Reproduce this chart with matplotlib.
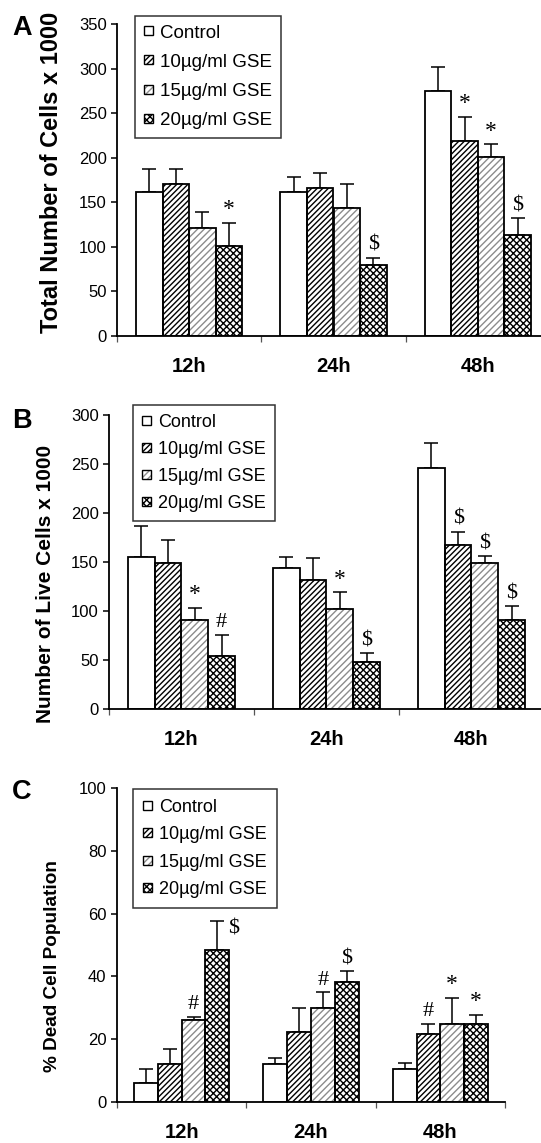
import numpy as np
import matplotlib
matplotlib.use("Agg")
import matplotlib.pyplot as plt
import matplotlib.patches as mpatches

plt.rcParams['font.family'] = ['Liberation Sans', 'DejaVu Sans']
plt.rcParams['hatch.linewidth'] = 1.0

times = ['12h', '24h', '48h']
series = ['Control', '10\u00b5g/ml GSE', '15\u00b5g/ml GSE', '20\u00b5g/ml GSE']

# panel A: total cells x 1000
total_mean = [[162, 162, 275], [170, 166, 219], [121, 144, 201], [101, 80, 113]]
total_err = [[25, 16, 27], [17, 17, 27], [18, 26, 14], [26, 8, 19]]
total_sig = [['', '', ''], ['', '', '*'], ['', '', '*'], ['*', '$', '$']]

# panel B: live cells x 1000
live_mean = [[155, 144, 246], [149, 132, 167], [91, 102, 149], [54, 48, 91]]
live_err = [[32, 11, 25], [23, 22, 14], [12, 17, 7], [22, 9, 14]]
live_sig = [['', '', ''], ['', '', '$'], ['*', '*', '$'], ['#', '$', '$']]

# panel C: % dead cells
dead_mean = [[6.2, 12.2, 10.6], [12.2, 22.2, 21.7], [26.0, 29.9, 24.8], [48.3, 38.2, 24.8]]
dead_err = [[4.4, 1.8, 1.7], [4.6, 7.7, 3.2], [1.2, 5.0, 8.4], [9.4, 3.4, 2.9]]
dead_sig = [['', '', ''], ['', '', '#'], ['#', '#', '*'], ['$', '$', '*']]

hatches = ['', '//////', '/////', 'xxxxx']
hatch_cols = ['black', 'black', '#8c8c8c', 'black']

W, H = 541, 1143
fig = plt.figure(figsize=(W / 100, H / 100), dpi=100)


def frac(l, t, r, b):
    return [l / W, 1 - b / H, (r - l) / W, (b - t) / H]


def panel(box, letter, letter_y, means, errs, sigs, ymax, ystep, ylabel, ylab_size,
          ylab_xy, leg_xy, leg_size, leg_space, leg_pad, special=None):
    ax = fig.add_axes(frac(*box))
    x = np.arange(len(times))
    w = 0.184
    handles = []
    for i in range(len(series)):
        pos = x + 0.5 + (i - 1.5) * w
        ax.bar(pos, means[i], w, color='white', edgecolor=hatch_cols[i],
               hatch=hatches[i], linewidth=0, zorder=2)
        ax.bar(pos, means[i], w, fill=False, edgecolor='black', linewidth=1.3, zorder=3)
        ax.errorbar(pos, means[i], yerr=[np.zeros(3), errs[i]], fmt='none',
                    ecolor='black', elinewidth=1.1, capsize=5, capthick=1.1, zorder=1)
        for j in range(len(times)):
            s = sigs[i][j]
            if not s:
                continue
            dx, dy, va = 0, 2, 'bottom'
            if special and (i, j) in special:
                dx, dy, va = special[(i, j)]
            ax.annotate(s, (pos[j], means[i][j] + errs[i][j]), xytext=(dx, dy),
                        textcoords='offset points', ha='center', va=va,
                        family='Liberation Serif', fontsize=16 if s != '*' else 17)
        hp = mpatches.Rectangle((0, 0), 1, 1, facecolor='white', edgecolor=hatch_cols[i],
                                hatch=hatches[i], linewidth=0)
        op = mpatches.Rectangle((0, 0), 1, 1, fill=False, edgecolor='black', linewidth=1.0)
        handles.append((hp, op))

    ax.set_xlim(0, 3)
    ax.set_ylim(0, ymax)
    ax.set_yticks(np.arange(0, ymax + 1, ystep))
    ax.set_xticks([0, 1, 2, 3])
    ax.set_xticklabels([])
    ax.set_xticks(x + 0.5, minor=True)
    ax.set_xticklabels(times, minor=True, fontweight='bold', fontsize=14.5)
    ax.tick_params(axis='x', which='minor', length=0, pad=15)
    ax.tick_params(axis='x', which='major', length=4, width=0.9, color='#555555',
                   direction='out')
    ax.tick_params(axis='y', length=4, width=1.1, labelsize=12)
    for sp in ['top', 'right']:
        ax.spines[sp].set_visible(False)
    for sp in ['left', 'bottom']:
        ax.spines[sp].set_linewidth(1.3)
    ax.set_ylabel(ylabel, fontweight='bold', fontsize=ylab_size)
    l, t, r, b = box
    ax.yaxis.set_label_coords((ylab_xy[0] - l) / (r - l), (b - ylab_xy[1]) / (b - t))

    # square legend keys of about 9 px
    fs = leg_size * 100 / 72
    hl = 9 / fs
    hh = (hl - 0.245) / 0.65
    leg = ax.legend(handles, series, loc='upper left',
                    bbox_to_anchor=(leg_xy[0] / W, 1 - leg_xy[1] / H),
                    bbox_transform=fig.transFigure,
                    frameon=True, fancybox=False, edgecolor='black', fontsize=leg_size,
                    handlelength=hl, handleheight=hh, handletextpad=0.4,
                    labelspacing=leg_space, borderpad=leg_pad, borderaxespad=0)
    leg.get_frame().set_linewidth(1.1)
    fig.text(12 / W, 1 - letter_y / H, letter, fontsize=19.5,
             fontweight='bold', va='center', ha='left')
    return ax


panel((117, 24, 550, 336), 'A', 28, total_mean, total_err, total_sig, 350, 50,
      'Total Number of Cells x 1000', 17, (63, 172), (135, 16), 13.5, 0.645, 0.46)
panel((109, 415, 544, 709), 'B', 421, live_mean, live_err, live_sig, 300, 50,
      'Number of Live Cells x 1000', 15, (55, 584), (133, 405), 13, 0.55, 0.5)
panel((117, 788, 505, 1102), 'C', 792, dead_mean, dead_err, dead_sig, 100, 20,
      '% Dead Cell Population', 13.7, (61, 966), (133, 789), 13, 0.58, 0.55,
      special={(3, 0): (12, -6, 'center')})

fig.savefig('out.png', dpi=100)
